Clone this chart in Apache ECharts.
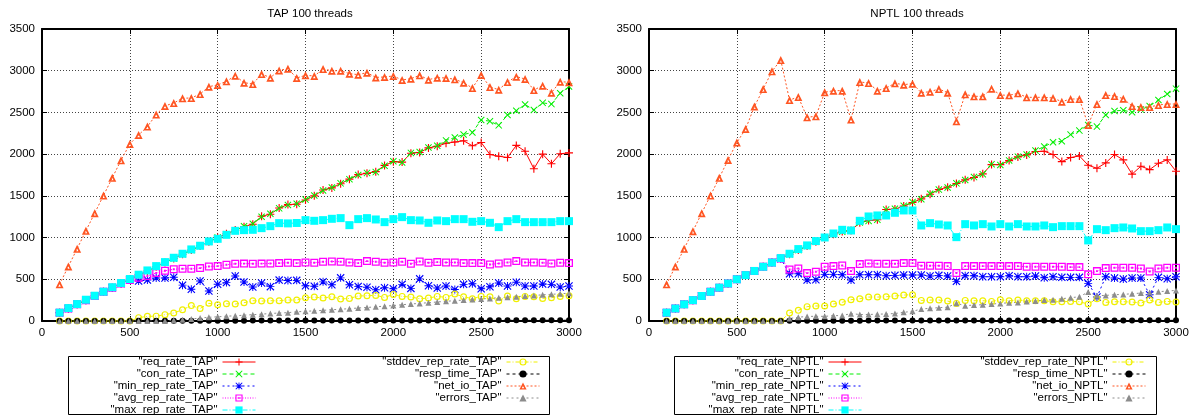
<!DOCTYPE html>
<html>
<head>
<meta charset="utf-8">
<title>TAP / NPTL 100 threads</title>
<script src="https://cdn.jsdelivr.net/npm/echarts@6/dist/echarts.min.js"></script>
<style>
	html, body { margin: 0; padding: 0; background: #fff; }
	#chart { width: 1197px; height: 416px; }
</style>
</head>
<body>
<div id="chart"></div>
<script>
	// x: offered request rate
	var xValues = [100, 150, 200, 250, 300, 350, 400, 450, 500, 550, 600, 650, 700, 750, 800, 850, 900, 950, 1000,
		1050, 1100, 1150, 1200, 1250, 1300, 1350, 1400, 1450, 1500, 1550, 1600, 1650, 1700, 1750, 1800, 1850, 1900, 1950,
		2000, 2050, 2100, 2150, 2200, 2250, 2300, 2350, 2400, 2450, 2500, 2550, 2600, 2650, 2700, 2750, 2800, 2850, 2900,
		2950, 3000]

	var xTicks = [0, 500, 1000, 1500, 2000, 2500, 3000]
	var yTicks = [0, 500, 1000, 1500, 2000, 2500, 3000, 3500]

	// ---- TAP ----
	var tapReq = [100, 150, 200, 250, 300, 350, 400, 450, 500, 550, 600, 650, 700, 750, 800, 850, 900, 950, 1000,
		1045, 1090, 1130, 1160, 1255, 1280, 1355, 1395, 1400, 1450, 1500, 1570, 1595, 1645, 1700, 1755, 1770, 1790, 1865, 1910,
		1905, 2010, 2020, 2075, 2095, 2130, 2145, 2160, 2100, 2140, 1995, 1975, 1960, 2105, 2035, 1825, 2000, 1885, 2005, 2015]
	var tapCon = [100, 150, 200, 250, 300, 350, 400, 450, 500, 550, 600, 650, 700, 750, 800, 850, 900, 950, 1000,
		1040, 1085, 1135, 1165, 1250, 1285, 1350, 1390, 1405, 1455, 1505, 1565, 1600, 1650, 1700, 1750, 1775, 1785, 1860, 1915,
		1900, 2015, 2025, 2080, 2100, 2165, 2200, 2235, 2260, 2410, 2395, 2345, 2470, 2520, 2595, 2530, 2615, 2600, 2730, 2810]
	var tapMin = [100, 150, 200, 250, 300, 350, 400, 450, 495, 480, 490, 515, 515, 525, 430, 380, 480, 360, 440, 460,
		540, 467, 407, 455, 412, 490, 485, 487, 423, 417, 469, 435, 517, 435, 415, 405, 375, 399, 387, 439, 391, 505, 423,
		395, 419, 378, 439, 447, 387, 411, 455, 419, 465, 419, 419, 443, 439, 407, 419]
	var tapAvg = [100, 150, 200, 250, 300, 350, 400, 450, 490, 519, 540, 575, 602, 620, 626, 626, 634, 654, 658, 674,
		686, 688, 686, 688, 690, 694, 698, 694, 702, 698, 710, 714, 710, 702, 694, 718, 710, 698, 702, 710, 686, 714, 698,
		706, 702, 702, 694, 694, 694, 678, 690, 702, 718, 702, 702, 698, 690, 698, 694]
	var tapMax = [100, 155, 203, 255, 303, 351, 405, 455, 503, 555, 606, 658, 706, 758, 806, 858, 902, 954, 985, 1033,
		1081, 1089, 1093, 1113, 1137, 1173, 1170, 1175, 1209, 1201, 1209, 1225, 1233, 1149, 1221, 1233, 1217, 1185, 1221,
		1245, 1209, 1205, 1177, 1205, 1197, 1221, 1221, 1189, 1197, 1177, 1125, 1197, 1221, 1185, 1185, 1185, 1185, 1197, 1197]
	var tapStd = [0, 0, 0, 0, 0, 0, 0, 0, 0, 40, 56, 58, 76, 96, 135, 185, 150, 212, 195, 207, 203, 219, 243, 239, 243,
		243, 251, 251, 279, 287, 275, 291, 263, 271, 299, 303, 307, 283, 319, 295, 287, 267, 275, 295, 283, 323, 291, 267,
		295, 291, 239, 299, 267, 295, 291, 271, 279, 295, 303]
	var tapResp = [0, 0, 0, 0, 1, 1, 1, 1, 1, 2, 2, 2, 2, 2, 3, 3, 3, 4, 4, 4, 4, 4, 5, 5, 5, 5, 5, 5, 6, 6, 6, 6, 6, 6,
		6, 6, 7, 7, 7, 7, 7, 7, 7, 7, 7, 8, 8, 8, 8, 8, 8, 8, 8, 8, 8, 9, 9, 9, 9]
	var tapNet = [440, 654, 866, 1081, 1293, 1504, 1716, 1927, 2123, 2230, 2330, 2474, 2578, 2613, 2670, 2673, 2721, 2809,
		2830, 2873, 2940, 2857, 2841, 2960, 2917, 3004, 3024, 2913, 2945, 2937, 3020, 3000, 3000, 2965, 2953, 2977, 2920,
		2925, 2937, 2889, 2905, 2945, 2893, 2917, 2913, 2897, 2857, 2793, 2949, 2805, 2773, 2865, 2929, 2901, 2769, 2821,
		2737, 2869, 2861]
	var tapErr = [0, 0, 0, 0, 0, 0, 0, 0, 0, 0, 0, 0, 0, 8, 15, 25, 35, 45, 50, 58, 62, 70, 76, 82, 90, 96, 100, 110, 116,
		122, 128, 135, 141, 148, 156, 162, 170, 178, 185, 195, 204, 211, 220, 228, 236, 244, 251, 258, 265, 271, 279, 285,
		291, 299, 306, 314, 320, 326, 333]

	// ---- NPTL ----
	var nptlReq = [100, 150, 200, 250, 300, 350, 400, 450, 500, 550, 600, 650, 700, 750, 800, 850, 900, 950, 1000,
		1041, 1073, 1085, 1177, 1205, 1213, 1337, 1341, 1377, 1420, 1464, 1520, 1576, 1604, 1648, 1692, 1720, 1764, 1875, 1875,
		1923, 1967, 1991, 2031, 2035, 1995, 1911, 1959, 1979, 1867, 1831, 1895, 1995, 1931, 1760, 1855, 1815, 1891, 1931, 1795]
	var nptlCon = [100, 150, 200, 250, 300, 350, 400, 450, 500, 550, 600, 650, 700, 750, 800, 850, 900, 950, 1000,
		1045, 1070, 1090, 1180, 1200, 1215, 1335, 1345, 1380, 1425, 1460, 1525, 1575, 1600, 1650, 1690, 1725, 1760, 1880, 1870,
		1925, 1970, 1995, 2043, 2091, 2143, 2155, 2234, 2282, 2350, 2330, 2470, 2518, 2526, 2502, 2534, 2577, 2649, 2721, 2785]
	var nptlMin = [100, 150, 200, 250, 300, 350, 400, 450, 500, 550, 600, 650, 700, 745, 567, 567, 491, 495, 559, 559,
		555, 491, 555, 555, 555, 543, 547, 551, 551, 551, 539, 547, 539, 475, 543, 543, 531, 531, 531, 543, 531, 531, 539,
		519, 531, 523, 523, 523, 451, 287, 531, 515, 503, 515, 515, 315, 523, 507, 531]
	var nptlAvg = [100, 150, 200, 250, 300, 350, 400, 450, 500, 550, 600, 650, 700, 750, 618, 630, 574, 590, 650, 658,
		666, 598, 682, 690, 686, 686, 686, 694, 694, 662, 662, 662, 658, 575, 658, 658, 658, 658, 658, 658, 658, 650, 650,
		650, 650, 650, 646, 646, 559, 598, 634, 638, 638, 638, 630, 594, 630, 638, 638]
	var nptlMax = [100, 150, 200, 250, 300, 350, 400, 450, 500, 550, 600, 650, 700, 754, 806, 862, 906, 958, 1001, 1049,
		1093, 1085, 1201, 1253, 1265, 1265, 1297, 1325, 1325, 1145, 1173, 1157, 1145, 1005, 1161, 1145, 1161, 1133, 1161,
		1133, 1161, 1133, 1133, 1145, 1125, 1137, 1137, 1137, 966, 1101, 1089, 1113, 1121, 1109, 1077, 1077, 1089, 1121, 1101]
	var nptlStd = [0, 0, 0, 0, 0, 0, 0, 0, 0, 0, 0, 0, 0, 0, 96, 128, 172, 180, 180, 204, 224, 255, 267, 287, 287, 291,
		299, 311, 315, 247, 251, 251, 239, 211, 247, 243, 243, 235, 255, 243, 251, 243, 243, 243, 231, 231, 235, 231, 203,
		267, 223, 231, 231, 227, 215, 251, 223, 235, 227]
	var nptlResp = [0, 0, 0, 0, 0, 0, 0, 0, 0, 0, 0, 0, 1, 1, 2, 2, 3, 3, 3, 4, 4, 4, 4, 5, 5, 5, 5, 5, 5, 6, 6, 6, 6, 7,
		6, 6, 6, 6, 6, 7, 7, 7, 7, 7, 7, 7, 7, 7, 8, 8, 7, 7, 7, 7, 8, 8, 8, 8, 8]
	var nptlNet = [439, 654, 866, 1077, 1293, 1504, 1716, 1931, 2139, 2302, 2570, 2781, 2993, 3128, 2649, 2685, 2442,
		2454, 2741, 2761, 2761, 2414, 2865, 2853, 2761, 2793, 2849, 2833, 2845, 2737, 2749, 2781, 2737, 2394, 2717, 2693,
		2693, 2785, 2709, 2705, 2729, 2681, 2681, 2681, 2673, 2629, 2661, 2661, 2350, 2601, 2709, 2697, 2665, 2577, 2565,
		2565, 2589, 2601, 2601]
	var nptlErr = [0, 0, 0, 0, 0, 0, 0, 0, 0, 0, 0, 0, 0, 0, 30, 45, 55, 56, 56, 64, 66, 88, 78, 78, 82, 84, 90, 104, 116,
		144, 152, 160, 165, 212, 184, 191, 195, 203, 211, 219, 223, 235, 239, 251, 255, 267, 279, 291, 347, 303, 307, 315,
		319, 327, 335, 343, 351, 359, 367]

	var font = '"Liberation Sans", Arial, Helvetica, sans-serif'

	// gnuplot-like point types
	var symPlus = 'path://M4.3,0H5.7V10H4.3Z M0,4.3H10V5.7H0Z'
	var symCross = 'path://M1,0L5,4L9,0L10,1L6,5L10,9L9,10L5,6L1,10L0,9L4,5L0,1Z'
	var symStar = 'path://M4.4,0H5.6V10H4.4Z M0,4.4H10V5.6H0Z M1,0L5,4L9,0L10,1L6,5L10,9L9,10L5,6L1,10L0,9L4,5L0,1Z'
	var symBoxDot = 'path://M0,0H10V10H0Z M1.6,1.6V8.4H8.4V1.6Z M3.8,3.8H6.2V6.2H3.8Z'
	var symRing = 'path://M5,0A5,5,0,1,1,5,10A5,5,0,1,1,5,0Z M5,1.7A3.3,3.3,0,1,0,5,8.3A3.3,3.3,0,1,0,5,1.7Z'
	var symTriOpen = 'path://M5,0L10,9H0Z M5,4.3L3.4,7.2H6.6Z'

	// one entry per series: suffix name, color, symbol, size, dash
	var styles = [
		['req_rate', '#ff0000', symPlus, 8, 'solid'],
		['con_rate', '#00ee00', symCross, 7, [4, 3]],
		['min_rep_rate', '#0000ff', symStar, 8, [2, 3]],
		['avg_rep_rate', '#ff00ff', symBoxDot, 8, [1, 1.5]],
		['max_rep_rate', '#00ffff', 'rect', 8, [5, 2, 1, 2]],
		['stddev_rep_rate', '#f0f000', symRing, 7, [4, 2, 1, 2]],
		['resp_time', '#000000', 'circle', 6, [3, 3]],
		['net_io', '#ff5522', symTriOpen, 8, [2, 2]],
		['errors', '#8c8c8c', 'triangle', 6, [2, 3]]
	]

	var tapData = [tapReq, tapCon, tapMin, tapAvg, tapMax, tapStd, tapResp, tapNet, tapErr]
	var nptlData = [nptlReq, nptlCon, nptlMin, nptlAvg, nptlMax, nptlStd, nptlResp, nptlNet, nptlErr]

	function seriesName(i, tag) {
		return '"' + styles[i][0] + '_' + tag + '"'
	}

	function plainNumber(v) {
		return String(v)
	}

	function makeSeries(tag, arrays, gridIdx) {
		return styles.map(function(s, i) {
			return {
				name: seriesName(i, tag),
				type: 'line',
				xAxisIndex: gridIdx * 2,
				yAxisIndex: gridIdx * 2,
				data: xValues.map(function(x, k) {
					return [x, arrays[i][k]]
				}),
				symbol: s[2],
				symbolSize: s[3],
				showSymbol: true,
				lineStyle: {
					color: s[1],
					width: 1,
					type: s[4]
				},
				itemStyle: {
					color: s[1]
				},
				emphasis: {
					disabled: true
				},
				silent: true
			}
		})
	}

	var frameLine = {
		show: true,
		onZero: false,
		lineStyle: {
			color: '#000',
			width: 2
		}
	}
	var frameTicks = {
		inside: true,
		length: 5,
		lineStyle: {
			color: '#000'
		}
	}
	var gridLine = {
		show: true,
		lineStyle: {
			color: '#444',
			width: 1,
			type: [1, 2]
		}
	}

	function makeXAxes(gridIdx) {
		var base = {
			type: 'value',
			gridIndex: gridIdx,
			min: xTicks[0],
			max: xTicks[xTicks.length - 1],
			interval: xTicks[1] - xTicks[0],
			axisLine: frameLine,
			axisTick: frameTicks
		}
		return [Object.assign({}, base, {
			position: 'bottom',
			axisLabel: {
				color: '#000',
				fontSize: 11.5,
				fontFamily: font,
				margin: 6,
				formatter: plainNumber
			},
			splitLine: gridLine
		}), Object.assign({}, base, {
			position: 'top',
			axisLabel: { show: false },
			splitLine: { show: false }
		})]
	}

	function makeYAxes(gridIdx) {
		var base = {
			type: 'value',
			gridIndex: gridIdx,
			min: yTicks[0],
			max: yTicks[yTicks.length - 1],
			interval: yTicks[1] - yTicks[0],
			axisLine: frameLine,
			axisTick: frameTicks
		}
		return [Object.assign({}, base, {
			position: 'left',
			axisLabel: {
				color: '#000',
				fontSize: 11.5,
				fontFamily: font,
				margin: 7,
				formatter: plainNumber
			},
			splitLine: gridLine
		}), Object.assign({}, base, {
			position: 'right',
			axisLabel: { show: false },
			splitLine: { show: false }
		})]
	}

	function makeLegend(tag, from, to, right) {
		var names = []
		for (var i = from; i < to; i++) names.push(seriesName(i, tag))
		return {
			data: names,
			orient: 'vertical',
			align: 'right',
			right: right,
			top: 356,
			padding: 0,
			itemGap: 0,
			itemWidth: 33,
			itemHeight: 9,
			selectedMode: false,
			lineStyle: {
				width: 1
			},
			textStyle: {
				color: '#000',
				fontSize: 11.5,
				lineHeight: 11.75,
				fontFamily: font
			}
		}
	}

	var chart = echarts.init(document.getElementById('chart'))
	chart.setOption({
		animation: false,
		backgroundColor: '#fff',
		title: [{
			text: 'TAP 100 threads',
			left: 305,
			top: 3,
			textAlign: 'center',
			textStyle: {
				fontSize: 11.5,
				fontWeight: 'normal',
				color: '#000',
				fontFamily: font
			}
		}, {
			text: 'NPTL 100 threads',
			left: 912,
			top: 3,
			textAlign: 'center',
			textStyle: {
				fontSize: 11.5,
				fontWeight: 'normal',
				color: '#000',
				fontFamily: font
			}
		}],
		grid: [{
			left: 42,
			top: 29,
			width: 527,
			height: 292
		}, {
			left: 649,
			top: 29,
			width: 527,
			height: 292
		}],
		xAxis: makeXAxes(0).concat(makeXAxes(1)),
		yAxis: makeYAxes(0).concat(makeYAxes(1)),
		legend: [
			makeLegend('TAP', 0, 5, 1197 - 256),
			makeLegend('TAP', 5, 9, 1197 - 540),
			makeLegend('NPTL', 0, 5, 1197 - 862),
			makeLegend('NPTL', 5, 9, 1197 - 1146)
		],
		// key boxes
		graphic: [{
			type: 'rect',
			shape: { x: 68.5, y: 356.5, width: 481, height: 58 },
			style: { fill: 'none', stroke: '#000', lineWidth: 1 },
			silent: true
		}, {
			type: 'rect',
			shape: { x: 674.5, y: 356.5, width: 482, height: 58 },
			style: { fill: 'none', stroke: '#000', lineWidth: 1 },
			silent: true
		}],
		series: makeSeries('TAP', tapData, 0).concat(makeSeries('NPTL', nptlData, 1))
	})
</script>
</body>
</html>
